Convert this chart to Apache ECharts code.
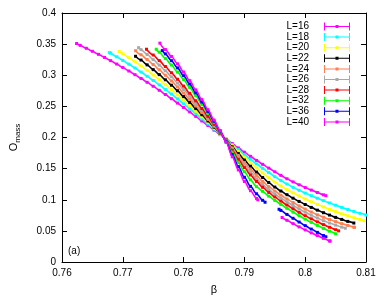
<!DOCTYPE html>
<html><head><meta charset="utf-8">
<script src="https://cdn.jsdelivr.net/npm/echarts@6/dist/echarts.min.js"></script>
<style>html,body{margin:0;padding:0;background:#fff}#c{width:382px;height:300px}</style>
</head><body><div id="c"></div>
<script>
const labels = ['L=16','L=18','L=20','L=22','L=24','L=26','L=28','L=32','L=36','L=40'];
const colors = ['#ff00ff','#00ffff','#ffff00','#000000','#ff7f50','#a8a8a8','#ff0000','#00ff00','#0000ff','#ff00ff'];
const xTicks = [0.76,0.77,0.78,0.79,0.8,0.81];
const yTicks = [0,0.05,0.1,0.15,0.2,0.25,0.3,0.35,0.4];

const L16 = [[0.7624,0.351],[0.763,0.348],[0.764,0.3433],[0.765,0.3385],[0.766,0.3336],[0.767,0.3286],[0.768,0.3234],[0.769,0.318],[0.770,0.3125],[0.771,0.3068],[0.772,0.3009],[0.773,0.2949],[0.774,0.2887],[0.775,0.2823],[0.776,0.2758],[0.777,0.2691],[0.778,0.2623],[0.779,0.2553],[0.780,0.2482],[0.781,0.241],[0.782,0.2338],[0.783,0.2265],[0.784,0.2192],[0.785,0.2119],[0.786,0.2046],[0.787,0.1974],[0.788,0.1903],[0.789,0.1833],[0.790,0.1764],[0.791,0.1697],[0.792,0.1632],[0.793,0.1569],[0.794,0.1508],[0.795,0.1449],[0.796,0.1392],[0.797,0.1337],[0.798,0.1287],[0.799,0.124],[0.800,0.1196],[0.801,0.1155],[0.802,0.1116],[0.803,0.1079],[0.8034,0.1065]];
const L18 = [[0.7678,0.3363],[0.768,0.3353],[0.769,0.3296],[0.770,0.3238],[0.771,0.3178],[0.772,0.3116],[0.773,0.3051],[0.774,0.2984],[0.775,0.2916],[0.776,0.2845],[0.777,0.2772],[0.778,0.2697],[0.779,0.262],[0.780,0.2541],[0.781,0.2461],[0.782,0.2381],[0.783,0.2299],[0.784,0.2217],[0.785,0.2135],[0.786,0.2053],[0.787,0.197],[0.788,0.1888],[0.789,0.1806],[0.790,0.1725],[0.791,0.165],[0.792,0.1576],[0.793,0.1504],[0.794,0.1436],[0.795,0.137],[0.796,0.1308],[0.797,0.1252],[0.798,0.1199],[0.799,0.1152],[0.800,0.1107],[0.801,0.1065],[0.802,0.1024],[0.803,0.0985],[0.804,0.0948],[0.805,0.0912],[0.806,0.0877],[0.807,0.0844],[0.808,0.0812],[0.809,0.0782],[0.810,0.0754]];
const L20 = [[0.7694,0.3381],[0.770,0.3345],[0.771,0.3282],[0.772,0.3217],[0.773,0.3149],[0.774,0.3078],[0.775,0.3005],[0.776,0.2929],[0.777,0.285],[0.778,0.277],[0.779,0.2686],[0.780,0.26],[0.781,0.2512],[0.782,0.2423],[0.783,0.2333],[0.784,0.2242],[0.785,0.215],[0.786,0.2059],[0.787,0.1966],[0.788,0.1869],[0.789,0.1775],[0.790,0.1683],[0.791,0.1595],[0.792,0.151],[0.793,0.143],[0.794,0.1354],[0.795,0.1284],[0.796,0.122],[0.797,0.1163],[0.798,0.111],[0.799,0.106],[0.800,0.1013],[0.801,0.0968],[0.802,0.0925],[0.803,0.0885],[0.804,0.0845],[0.805,0.0808],[0.806,0.0773],[0.807,0.0742],[0.808,0.0711],[0.809,0.0683],[0.8097,0.0664]];
const L22 = [[0.7721,0.3305],[0.773,0.3244],[0.774,0.3167],[0.775,0.309],[0.776,0.301],[0.777,0.2927],[0.778,0.284],[0.779,0.2751],[0.780,0.2657],[0.781,0.2563],[0.782,0.2465],[0.783,0.2366],[0.784,0.2266],[0.785,0.2166],[0.786,0.2065],[0.787,0.1962],[0.788,0.185],[0.789,0.1742],[0.790,0.1638],[0.791,0.1539],[0.792,0.1445],[0.793,0.1357],[0.794,0.1277],[0.795,0.1204],[0.796,0.114],[0.797,0.1081],[0.798,0.1025],[0.799,0.0973],[0.800,0.0924],[0.801,0.0877],[0.802,0.0833],[0.803,0.0792],[0.804,0.0754],[0.805,0.0717],[0.806,0.0684],[0.807,0.0652],[0.808,0.0626]];
const L24 = [[0.7721,0.3394],[0.773,0.3329],[0.774,0.3253],[0.775,0.3172],[0.776,0.3088],[0.777,0.3],[0.778,0.2909],[0.779,0.2813],[0.780,0.2714],[0.781,0.2612],[0.782,0.2507],[0.783,0.24],[0.784,0.2291],[0.785,0.2181],[0.786,0.2072],[0.787,0.1957],[0.788,0.1833],[0.789,0.1712],[0.790,0.1598],[0.791,0.1491],[0.792,0.1388],[0.793,0.1295],[0.794,0.1212],[0.795,0.114],[0.796,0.1074],[0.797,0.1013],[0.798,0.0955],[0.799,0.0901],[0.800,0.085],[0.801,0.0803],[0.802,0.0758],[0.803,0.0718],[0.804,0.0682],[0.805,0.0648],[0.806,0.0616],[0.807,0.0587],[0.808,0.0559],[0.8081,0.0557]];
const L26 = [[0.7726,0.3443],[0.773,0.3411],[0.774,0.3333],[0.775,0.3251],[0.776,0.3163],[0.777,0.3072],[0.778,0.2975],[0.779,0.2875],[0.780,0.2771],[0.781,0.2661],[0.782,0.2548],[0.783,0.2433],[0.784,0.2316],[0.785,0.2196],[0.786,0.2078],[0.787,0.1953],[0.788,0.1817],[0.789,0.1685],[0.790,0.1561],[0.791,0.1444],[0.792,0.1336],[0.793,0.1244],[0.794,0.1162],[0.795,0.1092],[0.796,0.1027],[0.797,0.0966],[0.798,0.0908],[0.799,0.0853],[0.800,0.0801],[0.801,0.0752],[0.802,0.0706],[0.803,0.0664],[0.804,0.0626],[0.805,0.0592],[0.806,0.056],[0.8066,0.0543]];
const L28 = [[0.7739,0.3418],[0.775,0.3325],[0.776,0.3235],[0.777,0.3141],[0.778,0.304],[0.779,0.2935],[0.780,0.2825],[0.781,0.271],[0.782,0.259],[0.783,0.2466],[0.784,0.234],[0.785,0.2213],[0.786,0.2085],[0.787,0.1948],[0.788,0.1795],[0.789,0.165],[0.790,0.1517],[0.791,0.1398],[0.792,0.1293],[0.793,0.12],[0.794,0.1118],[0.795,0.1045],[0.796,0.0978],[0.797,0.0915],[0.798,0.0855],[0.799,0.0798],[0.800,0.0744],[0.801,0.0693],[0.802,0.0645],[0.803,0.06],[0.804,0.0558],[0.805,0.0519],[0.8055,0.05]];
const L32 = [[0.7755,0.3418],[0.776,0.337],[0.777,0.327],[0.778,0.3164],[0.779,0.305],[0.780,0.293],[0.781,0.2804],[0.782,0.267],[0.783,0.2531],[0.784,0.2389],[0.785,0.2243],[0.786,0.2097],[0.787,0.194],[0.788,0.1765],[0.789,0.16],[0.790,0.145],[0.791,0.132],[0.792,0.121],[0.793,0.1135],[0.794,0.1058],[0.795,0.099],[0.796,0.0925],[0.797,0.0862],[0.798,0.0801],[0.799,0.0743],[0.800,0.0688],[0.801,0.0636],[0.802,0.0587],[0.803,0.054],[0.804,0.0495],[0.805,0.0452]];
const L36 = [[0.7765,0.3396],[0.777,0.3344],[0.778,0.3234],[0.779,0.3118],[0.780,0.2993],[0.781,0.2859],[0.782,0.2718],[0.783,0.2571],[0.784,0.2418],[0.785,0.2262],[0.786,0.2105],[0.787,0.1931],[0.788,0.1725],[0.789,0.1533],[0.790,0.1361],[0.791,0.1215],[0.792,0.1096],[0.793,0.0991],[0.7934,0.096],[0.7945,null],[0.7957,0.0847],[0.796,0.0828],[0.797,0.0764],[0.798,0.0702],[0.799,0.0642],[0.800,0.0584],[0.801,0.0529],[0.802,0.0476],[0.803,0.0425],[0.8034,0.0405]];
const L40 = [[0.7761,0.3516],[0.777,0.3413],[0.778,0.3301],[0.779,0.3183],[0.780,0.3051],[0.781,0.2913],[0.782,0.2765],[0.783,0.2609],[0.784,0.2447],[0.785,0.2281],[0.786,0.2113],[0.787,0.1923],[0.788,0.169],[0.789,0.1479],[0.790,0.1293],[0.791,0.1145],[0.792,0.1021],[0.7922,0.0998],[0.794,null],[0.7962,0.0715],[0.797,0.067],[0.798,0.0616],[0.799,0.0564],[0.800,0.0515],[0.801,0.0468],[0.802,0.0423],[0.803,0.038],[0.804,0.0339],[0.8041,0.0335]];
const seriesData = [L16,L18,L20,L22,L24,L26,L28,L32,L36,L40];

const FONT = 'Liberation Sans';
const legendIcon = 'path://M0,0h1v8h-1zM25,0h1v8h-1zM0,3.5h26v1h-26zM11.5,2.5h3v3h-3z';
const fmt = v => String(+v.toFixed(2));

const chart = echarts.init(document.getElementById('c'), null, {renderer:'canvas'});
const axisCommon = {
  type:'value', scale:false,
  axisLine:{show:true, onZero:false, lineStyle:{color:'#000', width:1}},
  axisTick:{show:true, inside:true, length:5, lineStyle:{color:'#000', width:1}},
  splitLine:{show:false}
};
chart.setOption({
  animation:false,
  backgroundColor:'#fff',
  grid:{left:55, right:16, top:13, bottom:33, containLabel:false},
  legend:{
    orient:'vertical', right:27, top:16.5, align:'right',
    itemWidth:26, itemHeight:8, itemGap:0.6,
    icon:legendIcon, selectedMode:false,
    textStyle:{fontFamily:FONT, fontSize:10, color:'#000', lineHeight:10, padding:[0,10,0,0]},
    data:labels.map(n=>({name:n}))
  },
  xAxis:[
    Object.assign({}, axisCommon, {position:'bottom', min:xTicks[0], max:xTicks[xTicks.length-1], interval:0.01,
      name:'β', nameLocation:'middle', nameGap:22,
      nameTextStyle:{fontFamily:FONT, fontSize:11, color:'#000'},
      axisLabel:{show:true, margin:6, fontFamily:FONT, fontSize:10, color:'#000', formatter:fmt}}),
    Object.assign({}, axisCommon, {position:'top', min:xTicks[0], max:xTicks[xTicks.length-1], interval:0.01,
      axisLabel:{show:false}})
  ],
  yAxis:[
    Object.assign({}, axisCommon, {position:'left', min:yTicks[0], max:yTicks[yTicks.length-1], interval:0.05,
      name:'{o|O}{s|mass}', nameLocation:'middle', nameGap:40, nameRotate:90,
      nameTextStyle:{fontFamily:FONT, color:'#000', rich:{
        o:{fontFamily:FONT, fontSize:11, color:'#000', lineHeight:16, verticalAlign:'middle'},
        s:{fontFamily:FONT, fontSize:8, color:'#000', lineHeight:16, verticalAlign:'bottom', padding:[6,0,0,0]}}},
      axisLabel:{show:true, margin:6, fontFamily:FONT, fontSize:10, color:'#000', formatter:fmt}}),
    Object.assign({}, axisCommon, {position:'right', min:yTicks[0], max:yTicks[yTicks.length-1], interval:0.05,
      axisLabel:{show:false}})
  ],
  graphic:[{type:'text', left:68, top:246, style:{text:'(a)', font:'10px "Liberation Sans"', fill:'#000'}}],
  series: seriesData.map((d,i)=>({
    name:labels[i], type:'line', data:d, xAxisIndex:0, yAxisIndex:0,
    color:colors[i], smooth:0.3, smoothMonotone:'x', connectNulls:false,
    symbol:'rect', symbolSize:3, showSymbol:true, showAllSymbol:true,
    lineStyle:{width:1.6, color:colors[i]}, itemStyle:{color:colors[i]},
    emphasis:{disabled:true}, silent:true, z:2+i
  }))
});
</script></body></html>
